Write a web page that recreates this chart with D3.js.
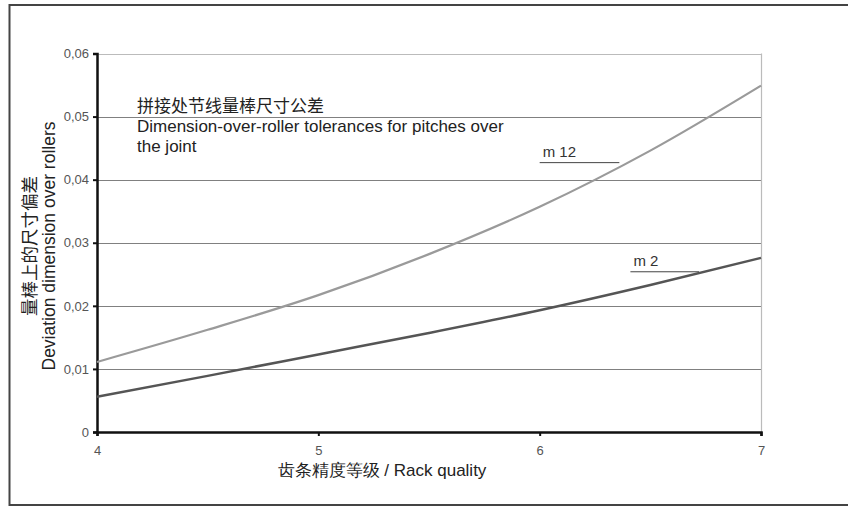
<!DOCTYPE html>
<html>
<head>
<meta charset="utf-8">
<script src="https://cdn.jsdelivr.net/npm/d3@7"></script>
<style>
  html, body { margin: 0; padding: 0; background: #fff; }
  svg { display: block; font-family: "Liberation Sans", Arial, sans-serif; }
</style>
</head>
<body>
<svg id="chart" width="848" height="507"></svg>
<script>
// Rack quality grades along the x axis
const qualities = [4, 4.5, 5, 5.5, 6, 6.5, 7];
// Dimension-over-roller deviation for module 12 and module 2
const m12Values = [0.0111, 0.0162, 0.0217, 0.0282, 0.0357, 0.0446, 0.0549];
const m2Values  = [0.0056, 0.0089, 0.0123, 0.0157, 0.0193, 0.0233, 0.0276];
const xTicks = [4, 5, 6, 7];
const yTicks = [0, 0.01, 0.02, 0.03, 0.04, 0.05, 0.06];
const seriesNames = ["m  12", "m 2"];
// Leader lines for the series labels, in data units: [from quality, to quality, value]
const leaders = [[6.0, 6.36, 0.0427], [6.41, 6.72, 0.0254]];
const titleLines = ["拼接处节线量棒尺寸公差", "Dimension-over-roller tolerances for pitches over", "the joint"];
const yTitle = ["量棒上的尺寸偏差", "Deviation dimension over rollers"];
const xTitle = "齿条精度等级 / Rack quality";

const svg = d3.select("#chart");
const m = { left: 97, right: 761, top: 53.5, bottom: 432 };
const latin = "'Liberation Sans', Arial, sans-serif";
const cjk = "'Noto Sans CJK SC', sans-serif";

const x = d3.scaleLinear().domain([4, 7]).range([m.left, m.right]);
const y = d3.scaleLinear().domain([0, 0.06]).range([m.bottom, m.top]);

// Outer frame
svg.append("rect")
  .attr("x", 9.5).attr("y", 5).attr("width", 850).attr("height", 500)
  .attr("fill", "none").attr("stroke", "#444").attr("stroke-width", 2);

// Horizontal gridlines
svg.append("g").selectAll("line")
  .data(yTicks.filter(d => d > 0))
  .join("line")
  .attr("x1", m.left).attr("x2", m.right)
  .attr("y1", d => Math.round(y(d)) + 0.5).attr("y2", d => Math.round(y(d)) + 0.5)
  .attr("stroke", d => d === 0.06 ? "#bbb" : "#808080")
  .attr("stroke-width", 1.2);

// Right edge of the plot area
svg.append("line")
  .attr("x1", m.right + 0.5).attr("x2", m.right + 0.5)
  .attr("y1", m.top).attr("y2", m.bottom)
  .attr("stroke", "#bbb").attr("stroke-width", 1.2);

const fmt = d => d === 0 ? "0" : d3.format(".2f")(d).replace(".", ",");

// Y axis
const yAxis = svg.append("g")
  .attr("transform", `translate(${m.left},0)`)
  .call(d3.axisLeft(y).tickValues(yTicks).tickFormat(fmt).tickSize(4).tickPadding(4));
yAxis.select(".domain").attr("stroke", "#111").attr("stroke-width", 2.5);
yAxis.selectAll(".tick line").attr("stroke", "#111").attr("stroke-width", 2);
yAxis.selectAll(".tick text").attr("fill", "#555").attr("font-size", 13)
  .attr("font-family", latin);

// X axis
const xAxis = svg.append("g")
  .attr("transform", `translate(0,${m.bottom})`)
  .call(d3.axisBottom(x).tickValues(xTicks).tickFormat(d3.format("d")).tickSize(4).tickPadding(10));
xAxis.select(".domain").attr("stroke", "#111").attr("stroke-width", 2.5);
xAxis.selectAll(".tick line").attr("stroke", "#111").attr("stroke-width", 2);
xAxis.selectAll(".tick text").attr("fill", "#555").attr("font-size", 13)
  .attr("font-family", latin);

// Curves
const line = d3.line()
  .x((d, i) => x(qualities[i]))
  .y(d => y(d))
  .curve(d3.curveMonotoneX);

svg.append("path").datum(m12Values)
  .attr("d", line).attr("fill", "none")
  .attr("stroke", "#9a9a9a").attr("stroke-width", 2.2);
svg.append("path").datum(m2Values)
  .attr("d", line).attr("fill", "none")
  .attr("stroke", "#555").attr("stroke-width", 2.5);

// Series labels with leader lines
leaders.forEach((l, i) => {
  svg.append("line")
    .attr("x1", x(l[0])).attr("x2", x(l[1]))
    .attr("y1", y(l[2])).attr("y2", y(l[2]))
    .attr("stroke", "#444").attr("stroke-width", 1);
  svg.append("text")
    .attr("x", x(l[0]) + 3).attr("y", y(l[2]) - 6)
    .attr("font-size", 15).attr("fill", "#333")
    .attr("font-family", latin)
    .text(seriesNames[i]);
});

// Chart title
svg.append("g").selectAll("text")
  .data(titleLines)
  .join("text")
  .attr("x", 137)
  .attr("y", (d, i) => 112 + i * 20)
  .attr("font-size", 17)
  .attr("fill", "#222")
  .attr("font-family", (d, i) => i === 0 ? cjk : latin)
  .text(d => d);

// Y axis title (two rotated lines)
yTitle.forEach((t, i) => {
  svg.append("text")
    .attr("transform", `translate(${36 + i * 19},246) rotate(-90)`)
    .attr("text-anchor", "middle")
    .attr("font-size", 17.5)
    .attr("fill", "#222")
    .attr("font-family", i === 0 ? cjk : latin)
    .text(t);
});

// X axis title
svg.append("text")
  .attr("x", 382).attr("y", 476)
  .attr("text-anchor", "middle")
  .attr("font-size", 17)
  .attr("fill", "#222")
  .attr("font-family", latin)
  .text(xTitle);
</script>
</body>
</html>
